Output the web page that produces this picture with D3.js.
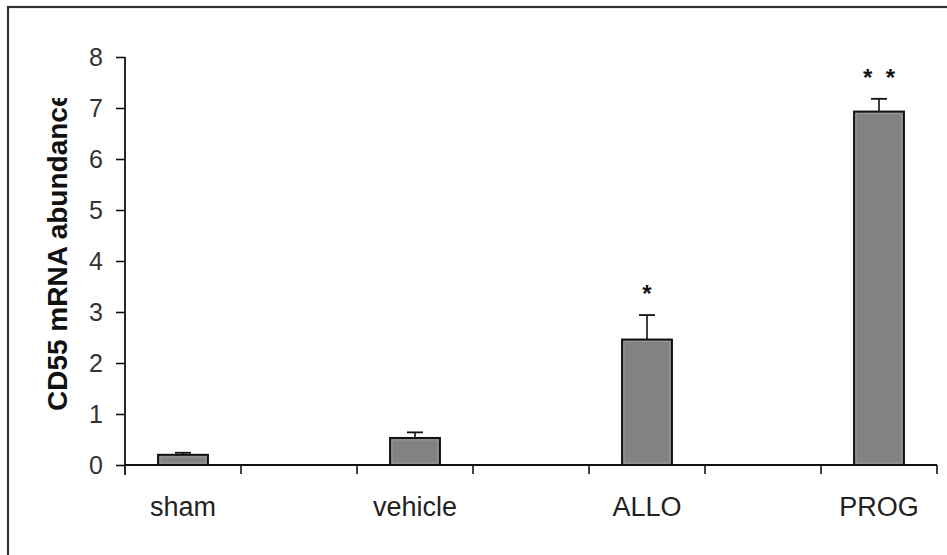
<!DOCTYPE html>
<html>
<head>
<meta charset="utf-8">
<script src="https://cdn.jsdelivr.net/npm/d3@7"></script>
<style>
  html, body { margin: 0; padding: 0; background: #fff; }
  svg { display: block; }
  text { font-family: "Liberation Sans", Arial, sans-serif; }
</style>
</head>
<body>
<svg id="chart" width="947" height="555"></svg>
<script>
// ---- data ----
const categories = ["sham", "vehicle", "ALLO", "PROG"];
const values = [0.2, 0.53, 2.46, 6.93];
const errors = [0.04, 0.11, 0.48, 0.25];
const significance = ["", "", "*", "*  *"];
const yTicks = [0, 1, 2, 3, 4, 5, 6, 7, 8];
const yTitle = "CD55 mRNA abundance";

// ---- layout ----
const W = 947, H = 555;
const plot = { left: 125, right: 937, top: 57, bottom: 465 };
const svg = d3.select("#chart");

// frame (top and left edges visible)
svg.append("rect")
  .attr("x", 8).attr("y", 7)
  .attr("width", W + 20).attr("height", H + 20)
  .attr("fill", "#fff").attr("stroke", "#333").attr("stroke-width", 2.2);

// slots: categories separated by empty gap slots
const slots = categories.flatMap((c, i) => i < categories.length - 1 ? [c, "_gap" + i] : [c]);
const x = d3.scaleBand().domain(slots).range([plot.left, plot.right]).paddingInner(0).paddingOuter(0);
const y = d3.scaleLinear().domain([0, 8]).range([plot.bottom, plot.top]);
const barW = x.bandwidth() * 0.43;

// y axis
const yAxis = d3.axisLeft(y).tickValues(yTicks).tickSize(9).tickSizeOuter(0).tickPadding(13).tickFormat(d3.format("d"));
const gy = svg.append("g").attr("transform", `translate(${plot.left},0)`).call(yAxis);
gy.select(".domain").remove();
gy.selectAll(".tick line").attr("stroke", "#111").attr("stroke-width", 1.6);
gy.selectAll(".tick text")
  .attr("font-size", 25).attr("fill", "#333")
  .attr("font-family", "Liberation Sans, Arial, sans-serif");
svg.append("line")
  .attr("x1", plot.left).attr("x2", plot.left)
  .attr("y1", y(8)).attr("y2", plot.bottom + 10)
  .attr("stroke", "#111").attr("stroke-width", 1.8);

// x axis line and boundary ticks
svg.append("line")
  .attr("x1", plot.left).attr("x2", plot.right)
  .attr("y1", y(0)).attr("y2", y(0))
  .attr("stroke", "#111").attr("stroke-width", 1.8);
const boundaries = slots.map(s => x(s)).concat([x.range()[1]]).slice(1);
svg.selectAll(".xtick").data(boundaries).enter().append("line")
  .attr("x1", d => d).attr("x2", d => d)
  .attr("y1", y(0)).attr("y2", y(0) + 9)
  .attr("stroke", "#111").attr("stroke-width", 1.6);

// category labels
svg.selectAll(".xlabel").data(categories).enter().append("text")
  .attr("x", d => x(d) + x.bandwidth() / 2)
  .attr("y", 516)
  .attr("text-anchor", "middle")
  .attr("font-size", 27).attr("fill", "#222")
  .text(d => d);

// y title (clipped at top like reference)
svg.append("clipPath").attr("id", "titleClip")
  .append("rect").attr("x", 0).attr("y", 98).attr("width", 120).attr("height", 400);
svg.append("g").attr("clip-path", "url(#titleClip)")
  .append("text")
  .attr("transform", `translate(67,411) rotate(-90)`)
  .attr("text-anchor", "start")
  .attr("font-size", 28).attr("font-weight", "bold").attr("fill", "#111")
  .text(yTitle);

// bars
const data = categories.map((c, i) => ({ c, v: values[i], e: errors[i], s: significance[i] }));
const cx = d => x(d.c) + x.bandwidth() / 2;

// error bars (upper only)
svg.selectAll(".err").data(data).enter().append("line")
  .attr("x1", cx).attr("x2", cx)
  .attr("y1", d => y(d.v)).attr("y2", d => y(d.v + d.e))
  .attr("stroke", "#111").attr("stroke-width", 1.6);
svg.selectAll(".cap").data(data).enter().append("line")
  .attr("x1", d => cx(d) - 8).attr("x2", d => cx(d) + 8)
  .attr("y1", d => y(d.v + d.e)).attr("y2", d => y(d.v + d.e))
  .attr("stroke", "#111").attr("stroke-width", 1.8);

svg.selectAll(".bar").data(data).enter().append("rect")
  .attr("x", d => cx(d) - barW / 2)
  .attr("y", d => y(d.v))
  .attr("width", barW)
  .attr("height", d => y(0) - y(d.v))
  .attr("fill", "#828282")
  .attr("stroke", "#111").attr("stroke-width", 2);
svg.selectAll(".barin").data(data).enter().append("rect")
  .attr("x", d => cx(d) - barW / 2 + 2)
  .attr("y", d => y(d.v) + 2)
  .attr("width", barW - 4)
  .attr("height", d => Math.max(0, y(0) - y(d.v) - 4))
  .attr("fill", "none")
  .attr("stroke", "#9a9a9a").attr("stroke-width", 1);

// significance markers
svg.selectAll(".sig").data(data.filter(d => d.s)).enter().append("text")
  .attr("x", cx)
  .attr("y", d => y(d.v + d.e) - 13)
  .attr("text-anchor", "middle")
  .attr("font-size", 24).attr("font-weight", "bold").attr("fill", "#111")
  .style("white-space", "pre")
  .text(d => d.s);
</script>
</body>
</html>
